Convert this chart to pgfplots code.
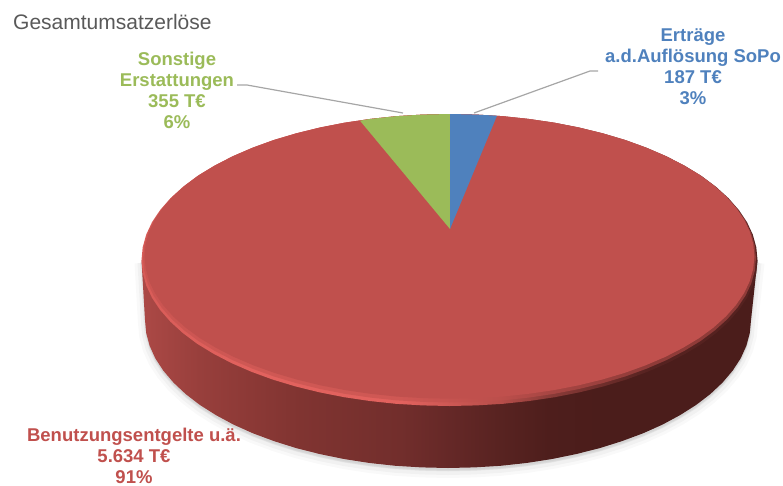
\documentclass[border=0pt]{standalone}
\usepackage{fontspec}
\setmainfont{Liberation Sans}
\usepackage{pgfplots}
\usepackage{pgfplotstable}
\pgfplotsset{compat=1.18}
\definecolor{rd}{HTML}{C0504D}
\definecolor{gn}{HTML}{9BBB59}
\definecolor{bl}{HTML}{4F81BD}
\definecolor{sa}{HTML}{AC4946}
\definecolor{sb}{HTML}{983F3C}
\definecolor{sc}{HTML}{8C3936}
\definecolor{sd}{HTML}{803431}
\definecolor{se}{HTML}{722E2C}
\definecolor{sf}{HTML}{652827}
\definecolor{sg}{HTML}{582321}
\definecolor{sh}{HTML}{4E1E1C}
\definecolor{si}{HTML}{4B1D1B}
\definecolor{ra}{HTML}{D85C58}
\definecolor{rb}{HTML}{E2625E}
\definecolor{rc}{HTML}{B84E4A}
\definecolor{rd2}{HTML}{8A3B38}
\definecolor{re}{HTML}{552220}
\pgfdeclarehorizontalshading{sideshade}{100bp}{color(0bp)=(sa); color(25bp)=(sa); color(29.7bp)=(sb); color(33.8bp)=(sc); color(37.9bp)=(sd); color(46bp)=(se); color(50bp)=(sf); color(54.1bp)=(sg); color(58.1bp)=(sh); color(62.2bp)=(si); color(100bp)=(si)}
\pgfdeclarehorizontalshading{rimshade}{100bp}{color(0bp)=(ra); color(25bp)=(ra); color(33.8bp)=(rb); color(46bp)=(rb); color(54.1bp)=(rc); color(58.1bp)=(rd2); color(66.3bp)=(re); color(100bp)=(re)}
\pgfplotstableread{
x y
757.5 260
756.3 272.7
752.8 285.4
747 297.8
738.9 309.9
728.6 321.7
716.2 333
701.8 343.8
685.4 353.8
667.3 363.2
647.5 371.8
626.2 379.6
603.5 386.4
579.7 392.3
554.8 397.2
529.2 401
503 403.8
476.4 405.4
449.5 406
422.6 405.4
396 403.8
369.8 401
344.2 397.2
319.3 392.3
295.5 386.4
272.8 379.6
251.5 371.8
231.7 363.2
213.6 353.8
197.2 343.8
182.8 333
170.4 321.7
160.1 309.9
152 297.8
146.2 285.4
142.7 272.7
141.5 260
142.7 247.3
146.2 234.6
152 222.2
160.1 210.1
170.4 198.3
182.8 187
197.2 176.2
213.6 166.2
231.7 156.8
251.5 148.2
272.8 140.4
295.5 133.6
319.3 127.7
344.2 122.8
369.8 119
396 116.2
422.6 114.6
449.5 114
476.4 114.6
503 116.2
529.2 119
554.8 122.8
579.7 127.7
603.5 133.6
626.2 140.4
647.5 148.2
667.3 156.8
685.4 166.2
701.8 176.2
716.2 187
728.6 198.3
738.9 210.1
747 222.2
752.8 234.6
756.3 247.3
}\topedge
\pgfplotstableread{
x y
757.5 260
751 320
749.8 332.9
746.4 345.7
740.7 358.3
732.7 370.6
722.6 382.5
710.4 394
696.2 404.9
680.1 415.1
662.3 424.7
642.8 433.4
621.8 441.2
599.5 448.2
576.1 454.1
551.6 459.1
526.4 463
500.6 465.8
474.4 467.4
448 468
421.6 467.4
395.4 465.8
369.6 463
344.4 459.1
319.9 454.1
296.5 448.2
274.2 441.2
253.2 433.4
233.7 424.7
215.9 415.1
199.8 404.9
185.6 394
173.4 382.5
163.3 370.6
155.3 358.3
149.6 345.7
146.2 332.9
145 320
141.5 260
}\sideedge
\begin{document}
\begin{tikzpicture}
\begin{axis}[
  scale only axis, width=783pt, height=485pt,
  xmin=0, xmax=783, ymin=0, ymax=485, y dir=reverse,
  axis lines=none, clip=false,
  every axis plot/.append style={no markers, forget plot},
]
% soft shadow
\addplot[draw=black, fill=black, opacity=0.025, line width=14pt, yshift=-3pt] table {\sideedge};
\addplot[draw=black, fill=black, opacity=0.03, line width=8pt, yshift=-3pt] table {\sideedge};
\addplot[draw=black, fill=black, opacity=0.035, line width=3pt, yshift=-2pt] table {\sideedge};
% side
\addplot[draw=none, shade, shading=sideshade] table {\sideedge};
% rim and top face
\addplot[draw=none, shade, shading=rimshade] table {\topedge};
\addplot[draw=none, fill=rd, fill opacity=0.55,
  x filter/.expression={449.5+0.995*(x-449.5)},
  y filter/.expression={114+0.988*(y-114)}] table {\topedge};
\addplot[draw=none, fill=rd,
  x filter/.expression={449.5+0.99*(x-449.5)},
  y filter/.expression={114+0.975*(y-114)}] table {\topedge};
% slices
\addplot[draw=none, fill=gn] coordinates {(450,229) (360,120.7) (369.8,119) (396,116.2) (422.6,114.6) (450,114)};
\addplot[draw=none, fill=bl] coordinates {(450,229) (450,114) (476.4,114.6) (497,115.7)};
% leader lines
\addplot[draw=black!35, line width=1.2pt] coordinates {(237,85) (247,85) (403,113)};
\addplot[draw=black!35, line width=1.2pt] coordinates {(474,113) (590,71) (598,71)};
% labels
\node[anchor=west, inner sep=0pt, text=black!65, font=\fontsize{21}{24}\selectfont] at (axis cs:13,22) {Gesamtumsatzerlöse};
\node[align=center, inner sep=0pt, text=gn, font=\fontsize{18.5}{21}\selectfont\bfseries] at (axis cs:177,90) {Sonstige\\Erstattungen\\355 T€\\6\%};
\node[align=center, inner sep=0pt, text=bl, font=\fontsize{18.5}{21}\selectfont\bfseries] at (axis cs:693,67) {Erträge\\a.d.Auflösung SoPo\\187 T€\\3\%};
\node[align=center, inner sep=0pt, text=rd, font=\fontsize{18.5}{21}\selectfont\bfseries] at (axis cs:134,456) {Benutzungsentgelte u.ä.\\5.634 T€\\91\%};
\end{axis}
\pgfresetboundingbox
\path[use as bounding box] (current axis.south west) rectangle (current axis.north east);
\end{tikzpicture}
\end{document}
